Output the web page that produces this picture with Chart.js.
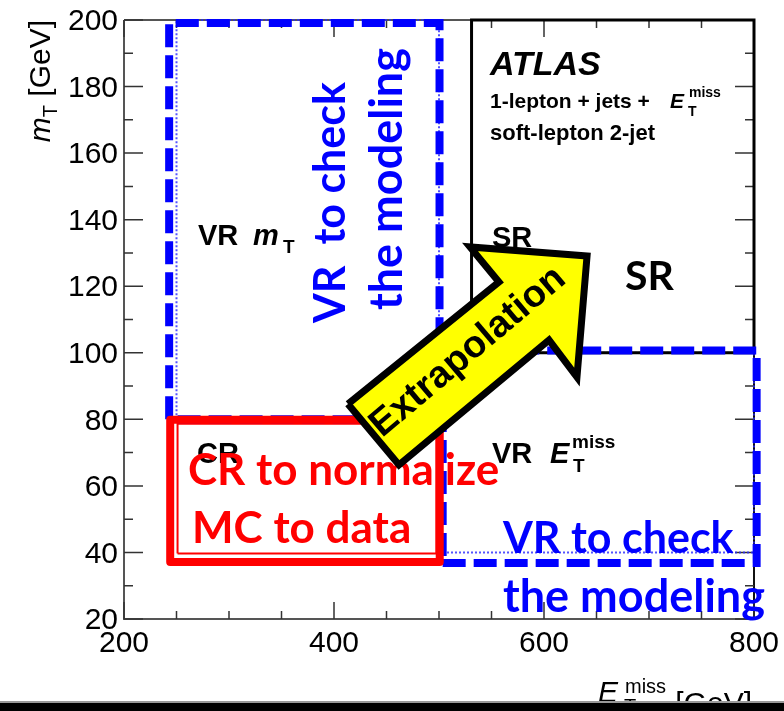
<!DOCTYPE html>
<html lang="en">
<head>
  <meta charset="UTF-8">
  <title>Soft-lepton 2-jet regions</title>
  <script src="https://cdn.jsdelivr.net/npm/chart.js"></script>
  <style>
    body { margin: 0; background: #fff; }
    canvas { display: block; }
  </style>
</head>
<body>
  <canvas id="regions" width="784" height="711"></canvas>

  <script>
    // axis ranges and ticks
    const xRange = [200, 800];
    const yRange = [20, 200];
    const xMajorTicks = [200, 400, 600, 800];
    const xMinorTicks = [250, 300, 350, 450, 500, 550, 650, 700, 750];
    const yMajorTicks = [20, 40, 60, 80, 100, 120, 140, 160, 180, 200];
    const yMinorTicks = [30, 50, 70, 90, 110, 130, 150, 170, 190];

    // region outlines (E_T^miss, m_T corners)
    const crX = [251, 497.5, 497.5, 251, 251];
    const crY = [39.7, 39.7, 78.7, 78.7, 39.7];
    const vrMtX = [250, 250, 500, 500];
    const vrMtY = [80, 200, 200, 80];
    const vrMetX = [500, 800, 800, 500, 500];
    const vrMetY = [40, 40, 100, 100, 40];
    const srX = [531, 531, 800, 800, 531];
    const srY = [100, 200, 200, 100, 100];

    // highlight boxes
    const vrMtBoxX = [243, 243, 500.5, 500.5, 243];
    const vrMtBoxY = [80, 199.1, 199.1, 80, 80];
    const vrMetBoxX = [503.5, 802.5, 802.5, 503.5, 503.5];
    const vrMetBoxY = [36.8, 36.8, 100.7, 100.7, 36.8];
    const crBoxX = [244, 500.7, 500.7, 244, 244];
    const crBoxY = [37.1, 37.1, 79.9, 79.9, 37.1];

    // extrapolation arrow outline
    const arrowX = [413.3, 557.1, 529.5, 641, 631.4, 604.8, 461.9, 413.3];
    const arrowY = [84.6, 121.3, 131.8, 129.1, 92.7, 103.8, 66.3, 84.6];

    const pts = (xs, ys) => xs.map((x, i) => ({ x: x, y: ys[i] }));

    const ROOT = '"Liberation Sans", Arial, sans-serif';
    const NOTE = 'Lato, "Open Sans", sans-serif';

    // black labels of the original plot: [text, x, y, font]
    const plotLabels = [
      ['VR', 198, 245, 'bold 29px ' + ROOT],
      ['m', 253, 245, 'italic bold 29px ' + ROOT],
      ['T', 283, 253, 'bold 19px ' + ROOT],
      ['CR', 197, 463, 'bold 29px ' + ROOT],
      ['SR', 492, 247, 'bold 29px ' + ROOT],
      ['VR', 492, 463, 'bold 29px ' + ROOT],
      ['E', 550, 463, 'italic bold 29px ' + ROOT],
      ['T', 573, 472, 'bold 19px ' + ROOT],
      ['miss', 572, 448, 'bold 19px ' + ROOT],
      ['ATLAS', 490, 75, 'italic bold 34px ' + ROOT],
      ['1-lepton + jets +', 490, 108, 'bold 21px ' + ROOT],
      ['E', 670, 108, 'italic bold 21px ' + ROOT],
      ['T', 688, 116, 'bold 14px ' + ROOT],
      ['miss', 689, 97, 'bold 14px ' + ROOT],
      ['soft-lepton 2-jet', 490, 140, 'bold 22px ' + ROOT]
    ];

    // overlaid notes: [text, x, y, size, colour, rotation]
    const notes = [
      ['CR to normalize', 188, 485, 44, '#ff0000', 0],
      ['MC to data', 192, 543, 44, '#ff0000', 0],
      ['VR to check', 503, 553, 43, '#0000ff', 0],
      ['the modeling', 503, 612, 45, '#0000ff', 0],
      ['VR  to check', 345, 323, 43, '#0000ff', -Math.PI / 2],
      ['the modeling', 402, 310, 45, '#0000ff', -Math.PI / 2]
    ];

    function drawText(ctx, t, x, y, font, color, rot) {
      ctx.save();
      ctx.font = font;
      ctx.fillStyle = color || '#000';
      ctx.textBaseline = 'alphabetic';
      ctx.textAlign = 'left';
      ctx.translate(x, y);
      if (rot) ctx.rotate(rot);
      ctx.fillText(t, 0, 0);
      ctx.restore();
    }

    const framePlugin = {
      id: 'frame',
      beforeDatasetsDraw(chart) {
        const ctx = chart.ctx;
        const a = chart.chartArea;
        const xs = chart.scales.x, ys = chart.scales.y;

        ctx.save();
        // frame
        ctx.lineWidth = 2;
        ctx.strokeStyle = '#555';
        ctx.beginPath();
        ctx.moveTo(a.left, a.top); ctx.lineTo(a.right, a.top);
        ctx.moveTo(a.left, a.top); ctx.lineTo(a.left, a.bottom); ctx.lineTo(a.right, a.bottom);
        ctx.stroke();
        ctx.strokeStyle = '#111';
        ctx.beginPath();
        ctx.moveTo(a.right, a.top); ctx.lineTo(a.right, a.bottom);
        ctx.stroke();

        // ticks pointing inwards on all four sides
        ctx.lineWidth = 1.5;
        ctx.strokeStyle = '#333';
        ctx.beginPath();
        const xt = xMajorTicks.map(v => [v, 17]).concat(xMinorTicks.map(v => [v, 8]));
        xt.forEach(([v, len]) => {
          const px = xs.getPixelForValue(v);
          ctx.moveTo(px, a.bottom); ctx.lineTo(px, a.bottom - len);
          ctx.moveTo(px, a.top); ctx.lineTo(px, a.top + len);
        });
        const yt = yMajorTicks.map(v => [v, 19]).concat(yMinorTicks.map(v => [v, 9]));
        yt.forEach(([v, len]) => {
          const py = ys.getPixelForValue(v);
          ctx.moveTo(a.left, py); ctx.lineTo(a.left + len, py);
          ctx.moveTo(a.right, py); ctx.lineTo(a.right - len, py);
        });
        ctx.stroke();

        // tick labels
        ctx.fillStyle = '#000';
        ctx.font = '30px ' + ROOT;
        ctx.textAlign = 'center';
        ctx.textBaseline = 'alphabetic';
        xMajorTicks.forEach(v => ctx.fillText(String(v), xs.getPixelForValue(v), 652));
        ctx.textAlign = 'right';
        ctx.textBaseline = 'middle';
        yMajorTicks.forEach(v => ctx.fillText(String(v), 118, ys.getPixelForValue(v) + 2));
        ctx.restore();

        plotLabels.forEach(([t, x, y, f]) => drawText(ctx, t, x, y, f, '#000', 0));
        drawText(ctx, 'SR', 625, 290, 'bold 41px ' + NOTE, '#000', 0);
      },
      beforeDatasetDraw(chart, args) {
        // notes go under the arrow
        if (args.index !== chart.data.datasets.length - 1) return;
        const ctx = chart.ctx;
        notes.forEach(([t, x, y, s, c, r]) => drawText(ctx, t, x, y, 'bold ' + s + 'px ' + NOTE, c, r));
      },
      afterDatasetsDraw(chart) {
        const ctx = chart.ctx;
        // arrow label
        ctx.save();
        ctx.translate(468, 352);
        ctx.rotate(-40.2 * Math.PI / 180);
        ctx.font = 'bold 38px ' + ROOT;
        ctx.fillStyle = '#000';
        ctx.textAlign = 'center';
        ctx.textBaseline = 'middle';
        ctx.fillText('Extrapolation', 0, 0);
        ctx.restore();

        // y title
        ctx.save();
        ctx.translate(50, 20);
        ctx.rotate(-Math.PI / 2);
        ctx.fillStyle = '#000';
        ctx.textBaseline = 'alphabetic';
        ctx.font = '30px ' + ROOT;
        const wG = ctx.measureText(' [GeV]').width;
        ctx.font = '20px ' + ROOT;
        const wT = ctx.measureText('T').width;
        ctx.font = 'italic 30px ' + ROOT;
        const wM = ctx.measureText('m').width;
        let u = -(wM + wT + wG);
        ctx.fillText('m', u, 0); u += wM;
        ctx.font = '20px ' + ROOT;
        ctx.fillText('T', u, 7); u += wT;
        ctx.font = '30px ' + ROOT;
        ctx.fillText(' [GeV]', u, 0);
        ctx.restore();

        // x title, right aligned to the frame
        ctx.save();
        ctx.fillStyle = '#000';
        ctx.textBaseline = 'alphabetic';
        ctx.font = '30px ' + ROOT;
        const gx = 752 - ctx.measureText('[GeV]').width;
        ctx.fillText('[GeV]', gx, 713);
        ctx.font = '20px ' + ROOT;
        ctx.fillText('miss', 625, 693);
        ctx.fillText('T', 624, 713);
        ctx.font = 'italic 30px ' + ROOT;
        ctx.fillText('E', 598, 702);
        ctx.restore();

        // bottom bar
        ctx.save();
        ctx.fillStyle = '#999';
        ctx.fillRect(0, 701, chart.width, 2);
        ctx.fillStyle = '#000';
        ctx.fillRect(0, 703, chart.width, 8);
        ctx.restore();
      }
    };

    const thin = (data, color, dash, width) => ({
      data: data, showLine: true, pointRadius: 0, borderColor: color,
      borderWidth: width, borderDash: dash, fill: false, clip: false,
      borderCapStyle: 'butt', borderJoinStyle: 'miter', tension: 0
    });

    const datasets = [
      Object.assign(thin(pts(vrMtX, vrMtY), 'rgba(40,40,255,0.8)', [2, 2], 2), { order: 8 }),
      Object.assign(thin(pts(vrMetX, vrMetY), 'rgba(40,40,255,0.8)', [2, 2], 2), { order: 7 }),
      Object.assign(thin(pts(crX, crY), '#ff0000', [], 2), { order: 6 }),
      Object.assign(thin(pts(srX, srY), '#000000', [], 3), { order: 5 }),
      Object.assign(thin(pts(vrMtBoxX, vrMtBoxY), '#0000ff', [23, 8], 8), { order: 4 }),
      Object.assign(thin(pts(vrMetBoxX, vrMetBoxY), '#0000ff', [23, 8], 8), { order: 3 }),
      Object.assign(thin(pts(crBoxX, crBoxY), '#ff0000', [], 8), { order: 2, borderJoinStyle: 'round' }),
      Object.assign(thin(pts(arrowX, arrowY), '#000000', [], 7), {
        order: 1, fill: 'shape', backgroundColor: '#ffff00'
      })
    ];

    new Chart(document.getElementById('regions').getContext('2d'), {
      type: 'scatter',
      data: { datasets: datasets },
      options: {
        responsive: false,
        animation: false,
        devicePixelRatio: 1,
        layout: { padding: { left: 124, top: 20, right: 30, bottom: 92 } },
        plugins: { legend: { display: false }, tooltip: { enabled: false } },
        scales: {
          x: { type: 'linear', min: xRange[0], max: xRange[1], display: false },
          y: { type: 'linear', min: yRange[0], max: yRange[1], display: false }
        }
      },
      plugins: [framePlugin]
    });
  </script>
</body>
</html>
